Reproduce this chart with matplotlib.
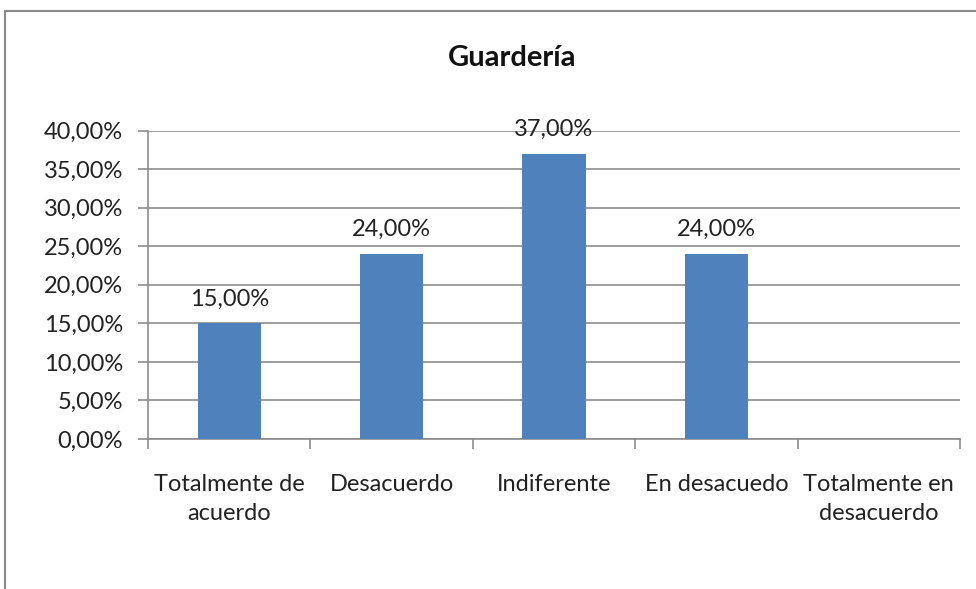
import numpy as np
import matplotlib
matplotlib.use("Agg")
import matplotlib.pyplot as plt
from matplotlib.lines import Line2D

categories = ["Totalmente de\nacuerdo", "Desacuerdo", "Indiferente", "En desacuedo", "Totalmente en\ndesacuerdo"]
values = [15.0, 24.0, 37.0, 24.0, np.nan]
yticks = [0, 5, 10, 15, 20, 25, 30, 35, 40]
title = "Guardería"

FONT = "Lato"
plt.rcParams['font.family'] = [FONT, 'DejaVu Sans']
FS = 17

fig = plt.figure(figsize=(9.76, 5.89), dpi=100)
ax = fig.add_axes([148/976, 1-439/589, (960-148)/976, (439-130.5)/589])

x = np.arange(len(categories))
ax.bar(x, np.nan_to_num(values), width=0.39, color="#4F81BD", zorder=3)
for xi, v in zip(x, values):
    if not np.isnan(v):
        ax.text(xi, v + 2.3, f"{v:.2f}%".replace(".", ","), ha="center", va="baseline",
                fontsize=FS, color="#222222")

ax.set_xlim(-0.5, len(categories) - 0.5)
ax.set_ylim(0, 40)
ax.set_yticks(yticks)
ax.set_yticklabels([f"{t:.2f}%".replace(".", ",") for t in yticks], fontsize=FS, color="#222222")
ax.yaxis.grid(True, color="#8C8C8C", linewidth=1.2, zorder=0)
ax.set_axisbelow(True)

ax.set_xticks(np.arange(-0.5, len(categories), 1.0))
ax.set_xticklabels([])
ax.set_xticks(x, minor=True)
ax.set_xticklabels(categories, minor=True, fontsize=FS, color="#222222", linespacing=1.5)
ax.tick_params(axis="x", which="minor", length=0, pad=25)
ax.tick_params(axis="x", which="major", length=7, width=1.2, color="#8C8C8C", direction="out")
ax.tick_params(axis="y", length=7, width=1.2, color="#8C8C8C", pad=11)

for s in ["top", "right"]:
    ax.spines[s].set_visible(False)
for s in ["left", "bottom"]:
    ax.spines[s].set_color("#8C8C8C")
    ax.spines[s].set_linewidth(1.2)

fig.text(512/976, 1-66/589, title, ha="center", va="baseline", fontsize=21, fontweight="bold", color="#111111")

# chart frame border (top and left edges visible)
fig.add_artist(Line2D([5/976, 1.0], [1-10.5/589, 1-10.5/589], transform=fig.transFigure, color="#8A8A8A", linewidth=1.5))
fig.add_artist(Line2D([5/976, 5/976], [0.0, 1-10.5/589], transform=fig.transFigure, color="#8A8A8A", linewidth=1.5))

fig.savefig("out.png", dpi=100)
